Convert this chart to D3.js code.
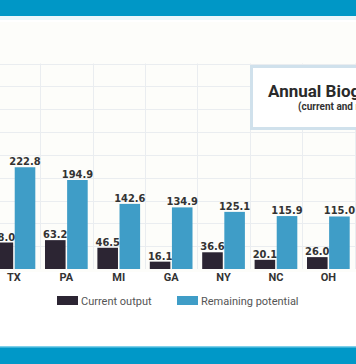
<!DOCTYPE html>
<html><head><meta charset="utf-8">
<script src="https://cdn.jsdelivr.net/npm/d3@7"></script>
<style>
html,body{margin:0;padding:0;background:#fff;}
svg{display:block;}
</style></head>
<body><svg id="c" width="356" height="364"></svg>
<script>
const states = ["TX","PA","MI","GA","NY","NC","OH"];
const currentOutput = [58.0, 63.2, 46.5, 16.1, 36.6, 20.1, 26.0];
const remainingPotential = [222.8, 194.9, 142.6, 134.9, 125.1, 115.9, 115.0];
const seriesNames = ["Current output","Remaining potential"];
const yTicks = [0,50,100,150,200,250,300,350,400,450];
const titleText = "Annual Biogas Potential";
const subtitleText = "(current and remaining potential)";

(function(){
const colors = {"Current output":"#2c2533","Remaining potential":"#3f9dc7"};
const svg = d3.select("#c");
const W = 356, H = 364;

svg.append("rect").attr("width",W).attr("height",H).attr("fill","#ffffff");
svg.append("rect").attr("x",0).attr("y",22).attr("width",W).attr("height",250).attr("fill","#fdfdfa");
svg.append("rect").attr("x",0).attr("y",0).attr("width",W).attr("height",16).attr("fill","#0097c6");
svg.append("rect").attr("x",0).attr("y",16).attr("width",W).attr("height",4).attr("fill","#eaf7fb");
svg.append("rect").attr("x",0).attr("y",347).attr("width",W).attr("height",17).attr("fill","#0098c8");
svg.append("rect").attr("x",0).attr("y",346).attr("width",W).attr("height",1.5).attr("fill","#7fd0ea");

const base = 269, plotTop = 63.5;
const y = d3.scaleLinear().domain([0,450]).range([base, plotTop]);
const x = d3.scaleBand().domain(states).range([-12.25, -12.25 + 52.4*7]).paddingInner(0.185).paddingOuter(0.0925);
const x1 = d3.scaleBand().domain(seriesNames).range([0, x.bandwidth()]).paddingInner(0.07);

const g = svg.append("g");
g.selectAll("line.h").data(yTicks.slice(1)).join("line")
  .attr("x1",0).attr("x2",W).attr("y1",d=>Math.round(y(d))+0.5).attr("y2",d=>Math.round(y(d))+0.5)
  .attr("stroke","#eaedf0").attr("stroke-width",1);
const gap = x.step() - x.bandwidth();
g.selectAll("line.v").data(states).join("line")
  .attr("x1",d=>Math.round(x(d)+x.bandwidth()+gap/2)+0.5).attr("x2",d=>Math.round(x(d)+x.bandwidth()+gap/2)+0.5)
  .attr("y1",y(450)).attr("y2",base)
  .attr("stroke","#eaedf0").attr("stroke-width",1);

svg.append("rect").attr("x",251.5).attr("y",66.5).attr("width",200).attr("height",62)
  .attr("fill","#ffffff").attr("stroke","#d0e1ec").attr("stroke-width",3);
svg.append("text").attr("x",268).attr("y",97).text(titleText)
  .attr("font-family","Roboto, 'Open Sans', sans-serif").attr("font-weight","bold").attr("font-size",17).attr("fill","#2a2a2a");
svg.append("text").attr("x",298).attr("y",110).text(subtitleText)
  .attr("font-family","Roboto, 'Open Sans', sans-serif").attr("font-weight","bold").attr("font-size",10).attr("fill","#333");

const rows = states.map((s,i)=>({state:s, vals:[{k:"Current output",v:currentOutput[i]},{k:"Remaining potential",v:remainingPotential[i]}]}));
const grp = svg.append("g").selectAll("g").data(rows).join("g").attr("transform",d=>`translate(${x(d.state)},0)`);
grp.selectAll("rect").data(d=>d.vals).join("rect")
  .attr("x",d=>x1(d.k)).attr("width",x1.bandwidth())
  .attr("y",d=>y(d.v)).attr("height",d=>base-y(d.v))
  .attr("fill",d=>colors[d.k]);
grp.selectAll("text").data(d=>d.vals).join("text")
  .attr("x",d=>x1(d.k)+x1.bandwidth()/2).attr("y",d=>y(d.v)-2)
  .attr("text-anchor","middle")
  .attr("font-family","'Liberation Sans Narrow', 'DejaVu Sans Condensed', sans-serif")
  .attr("font-weight","bold").attr("font-size",11).attr("fill","#333")
  .text(d=>d.v.toFixed(1));

const xAxis = d3.axisBottom(x).tickSize(0).tickPadding(0);
const ax = svg.append("g").attr("transform",`translate(0,${base+4})`).call(xAxis);
ax.select(".domain").remove();
ax.selectAll("text").attr("dy","0.71em").attr("font-family","Roboto, sans-serif").attr("font-weight","bold").attr("font-size",11).attr("fill","#333");

const leg = svg.append("g");
const legX = [57, 177];
seriesNames.forEach((n,i)=>{
  leg.append("rect").attr("x",legX[i]).attr("y",296).attr("width",21).attr("height",9).attr("fill",colors[n]);
  leg.append("text").attr("x",legX[i]+24).attr("y",304.5).text(n)
    .attr("font-family","Roboto, sans-serif").attr("font-size",11).attr("fill","#555");
});
})();
</script></body></html>
